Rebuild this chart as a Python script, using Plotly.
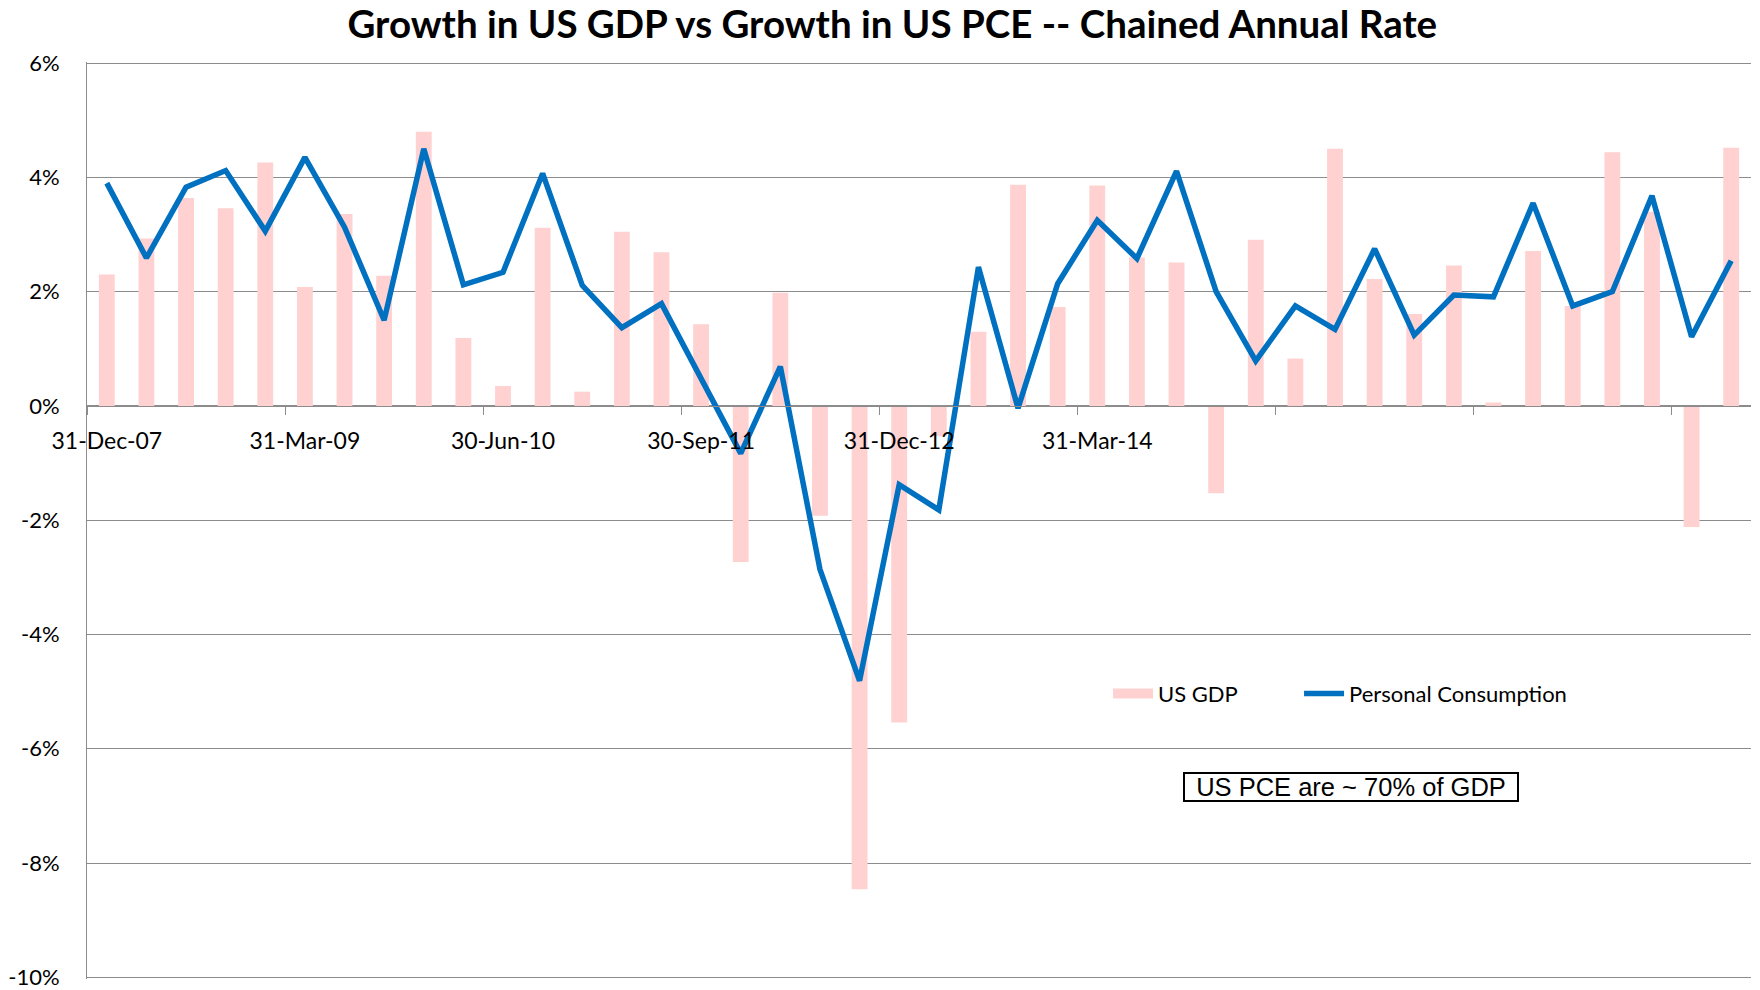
import pandas as pd
import plotly.graph_objects as go

# quarter-end dates, Q4 2007 .. Q1 2018
QUARTERS = list(pd.date_range("2007-12-31", periods=42, freq="QE").strftime("%d-%b-%y"))

GDP = [2.30, 2.93, 3.64, 3.46, 4.26, 2.08, 3.36, 2.28, 4.80, 1.19,
       0.35, 3.12, 0.25, 3.05, 2.69, 1.43, -2.73, 1.98, -1.92, -8.46,
       -5.54, -0.53, 1.30, 3.87, 1.73, 3.86, 2.60, 2.51, -1.53, 2.91,
       0.83, 4.50, 2.22, 1.61, 2.46, 0.06, 2.71, 1.75, 4.44, 3.40,
       -2.12, 4.52]

PCE = [3.90, 2.59, 3.83, 4.12, 3.06, 4.35, 3.13, 1.50, 4.50, 2.12,
       2.34, 4.07, 2.11, 1.37, 1.79, 0.47, -0.83, 0.69, -2.86, -4.81,
       -1.38, -1.82, 2.43, -0.04, 2.14, 3.25, 2.58, 4.11, 2.00, 0.79,
       1.75, 1.34, 2.75, 1.24, 1.94, 1.91, 3.55, 1.75, 2.00, 3.68,
       1.21, 2.54]

Y_TICKS = [-10, -8, -6, -4, -2, 0, 2, 4, 6]
Y_TICK_TEXT = ["-10%", "-8%", "-6%", "-4%", "-2%", "0%", "2%", "4%", "6%"]

# Excel only printed the first six date labels
HIDDEN_LABELS = {q: " " for q in QUARTERS[30::5]}

FONT = "Lato"
GRID = "#8c8c8c"
PINK = "#ffd1d1"
BLUE = "#0070c0"

fig = go.Figure()
fig.add_trace(go.Bar(x=QUARTERS, y=GDP, name="US GDP", width=0.4,
                     showlegend=False, legendgroup="gdp",
                     marker=dict(color=PINK, line=dict(width=0))))
# legend-only entry so the key is drawn as a wide block like Excel's
fig.add_trace(go.Scatter(x=[None], y=[None], name="US GDP", mode="lines",
                         legend="legend", legendgroup="gdp", hoverinfo="skip",
                         line=dict(color=PINK, width=15)))
fig.add_trace(go.Scatter(x=QUARTERS, y=PCE, name="Personal Consumption", mode="lines",
                         legend="legend2", line=dict(color=BLUE, width=5.5)))

legend_style = dict(orientation="h", xanchor="left", y=0.311, yanchor="middle",
                    bgcolor="rgba(0,0,0,0)", font=dict(size=22), itemwidth=40)

fig.update_layout(
    width=1760, height=990,
    margin=dict(l=87, r=9, t=62, b=11, autoexpand=False),
    paper_bgcolor="white", plot_bgcolor="white",
    font=dict(family=FONT, size=22, color="black"),
    title=dict(text="<b>Growth in US GDP vs Growth in US PCE -- Chained Annual Rate</b>",
               x=0.507, xanchor="center", y=0.975, yanchor="middle",
               font=dict(family=FONT, size=38.5, color="black", weight=900)),
    xaxis=dict(type="category", range=[-0.5, 41.5], anchor="free", position=0.625,
               tickmode="linear", tick0=0, dtick=5, tickson="boundaries",
               labelalias=HIDDEN_LABELS, tickangle=0, automargin=False,
               ticks="outside", ticklen=8, tickcolor=GRID, tickwidth=1,
               showline=True, linecolor=GRID, linewidth=1,
               showgrid=False, zeroline=False, ticklabelstandoff=15,
               tickfont=dict(size=23)),
    yaxis=dict(range=[-10.03, 6.02], tickmode="array", tickvals=Y_TICKS, ticktext=Y_TICK_TEXT,
               automargin=False,
               showgrid=True, gridcolor=GRID, gridwidth=1,
               zeroline=True, zerolinecolor=GRID, zerolinewidth=1,
               showline=True, linecolor=GRID, linewidth=1,
               ticks="", ticklabelstandoff=22, tickfont=dict(size=22)),
    showlegend=True,
    legend=dict(x=0.6136, **legend_style),
    legend2=dict(x=0.7284, **legend_style),
)

fig.add_annotation(text="US PCE are ~ 70% of GDP", xref="paper", yref="paper",
                   x=0.7596, y=0.209, xanchor="center", yanchor="middle", showarrow=False,
                   width=332, height=26, align="center",
                   font=dict(family="Liberation Sans", size=25.5, color="black"),
                   bordercolor="black", borderwidth=2, borderpad=0, bgcolor="white")

fig.write_html("out.html", config={"displayModeBar": False},
               post_script="document.body.style.margin='0';")
